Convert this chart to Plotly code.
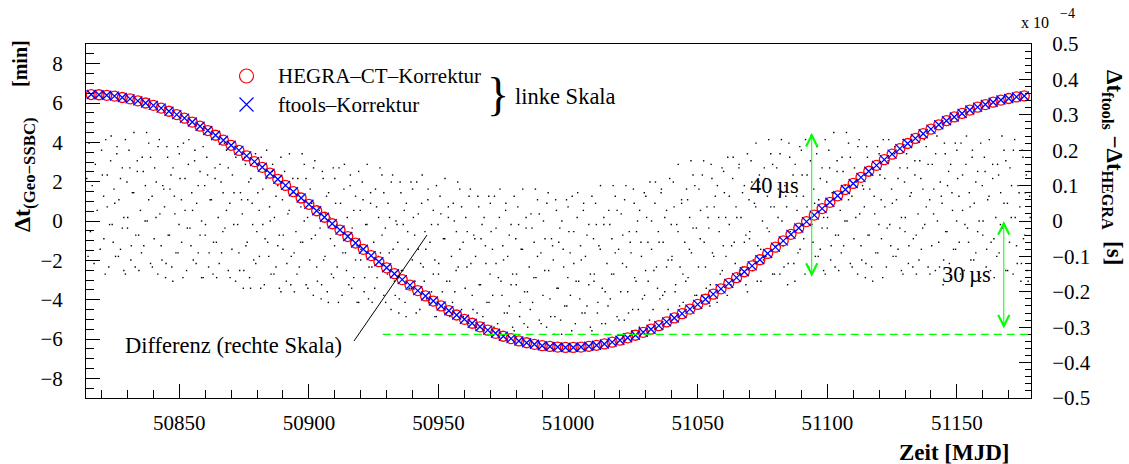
import plotly.graph_objects as go

# ---------------- data ----------------
mjd = [50816, 50819, 50822, 50825, 50828, 50831, 50834, 50837, 50840, 50843,
       50846, 50849, 50852, 50855, 50858, 50861, 50864, 50867, 50870, 50873,
       50876, 50879, 50882, 50885, 50888, 50891, 50894, 50897, 50900, 50903,
       50906, 50909, 50912, 50915, 50918, 50921, 50924, 50927, 50930, 50933,
       50936, 50939, 50942, 50945, 50948, 50951, 50954, 50957, 50960, 50963,
       50966, 50969, 50972, 50975, 50978, 50981, 50984, 50987, 50990, 50993,
       50996, 50999,
       51002, 51005, 51008, 51011, 51014, 51017, 51020, 51023, 51026, 51029,
       51032, 51035, 51038, 51041, 51044, 51047, 51050, 51053, 51056, 51059,
       51062, 51065, 51068, 51071, 51074, 51077, 51080, 51083, 51086, 51089,
       51092, 51095, 51098, 51101, 51104, 51107, 51110, 51113, 51116, 51119,
       51122, 51125, 51128, 51131, 51134, 51137, 51140, 51143, 51146, 51149,
       51152, 51155, 51158, 51161, 51164, 51167, 51170, 51173, 51176]

hegra_min = [6.43, 6.42, 6.39, 6.35, 6.28, 6.21, 6.11, 6.00, 5.88, 5.74,
             5.58, 5.41, 5.23, 5.03, 4.82, 4.60, 4.36, 4.11, 3.85, 3.59,
             3.31, 3.02, 2.73, 2.43, 2.12, 1.81, 1.49, 1.17, 0.85, 0.52,
             0.19, -0.14, -0.46, -0.79, -1.12, -1.44, -1.76, -2.07, -2.38, -2.68,
             -2.98, -3.26, -3.54, -3.81, -4.07, -4.32, -4.56, -4.78, -5.00, -5.20,
             -5.38, -5.55, -5.71, -5.86, -5.98, -6.10, -6.19, -6.27, -6.34, -6.38,
             -6.41, -6.43,
             -6.43, -6.41, -6.37, -6.32, -6.25, -6.16, -6.06, -5.94, -5.81, -5.66,
             -5.50, -5.32, -5.13, -4.93, -4.71, -4.48, -4.24, -3.98, -3.72, -3.45,
             -3.17, -2.88, -2.58, -2.28, -1.97, -1.65, -1.33, -1.01, -0.68, -0.36,
             -0.03, 0.30, 0.63, 0.95, 1.28, 1.60, 1.91, 2.22, 2.53, 2.83,
             3.12, 3.40, 3.68, 3.94, 4.20, 4.44, 4.67, 4.89, 5.10, 5.29,
             5.47, 5.64, 5.79, 5.92, 6.04, 6.15, 6.23, 6.31, 6.36]

# ftools correction is indistinguishable from the HEGRA one at this scale
ftools_min = list(hegra_min)

# difference ftools - HEGRA, in units of 1e-4 s (right scale)
dot_mjd = [
    50814.3, 50814.8,
    50815.2, 50815.7, 50816.4, 50817.1, 50817.6, 50818.3, 50819.5, 50820.0, 50820.8, 50821.4, 50822.2, 50823.1, 50823.7, 50824.5,
    50825.1, 50825.9, 50826.5, 50827.3, 50828.0, 50828.6, 50829.2, 50830.1, 50830.9, 50831.5, 50832.4, 50833.0, 50833.8, 50834.3,
    50835.4, 50836.1, 50836.8, 50837.4, 50838.2, 50838.9, 50839.6, 50840.3, 50841.1, 50841.8, 50842.5, 50843.3, 50844.0, 50844.7,
    50845.2, 50845.7, 50846.4, 50847.1, 50847.6, 50848.3, 50849.5, 50850.0, 50850.8, 50851.4, 50852.2, 50853.1, 50853.7, 50854.5,
    50855.1, 50855.9, 50856.5, 50857.3, 50858.0, 50858.6, 50859.2, 50860.1, 50860.9, 50861.5, 50862.4, 50863.0, 50863.8, 50864.3,
    50865.4, 50866.1, 50866.8, 50867.4, 50868.2, 50868.9, 50869.6, 50870.3, 50871.1, 50871.8, 50872.5, 50873.3, 50874.0, 50874.7,
    50875.2, 50875.7, 50876.4, 50877.1, 50877.6, 50878.3, 50879.5, 50880.0, 50880.8, 50881.4, 50882.2, 50883.1, 50883.7, 50884.5,
    50885.1, 50885.9, 50886.5, 50887.3, 50888.0, 50888.6, 50889.2, 50890.1, 50890.9, 50891.5, 50892.4, 50893.0, 50893.8, 50894.3,
    50895.4, 50896.1, 50896.8, 50897.4, 50898.2, 50898.9, 50899.6, 50900.3, 50901.1, 50901.8, 50902.5, 50903.3, 50904.0, 50904.7,
    50905.2, 50905.7, 50906.4, 50907.1, 50907.6, 50908.3, 50909.5, 50910.0, 50910.8, 50911.4, 50912.2, 50913.1, 50913.7, 50914.5,
    50915.1, 50915.9, 50916.5, 50917.3, 50918.0, 50918.6, 50919.2, 50920.1, 50920.9, 50921.5, 50922.4, 50923.0, 50923.8, 50924.3,
    50925.4, 50926.1, 50926.8, 50927.4, 50928.2, 50928.9, 50929.6, 50930.3, 50931.1, 50931.8, 50932.5, 50933.3, 50934.0, 50934.7,
    50935.2, 50935.7, 50936.4, 50937.1, 50937.6, 50938.3, 50939.5, 50940.0, 50940.8, 50941.4, 50942.2, 50943.1, 50943.7, 50944.5,
    50945.1, 50945.9, 50946.5, 50947.3, 50948.0, 50948.6, 50949.2, 50950.1, 50950.9, 50951.5, 50952.4, 50953.0, 50953.8, 50954.3,
    50955.4, 50956.1, 50956.8, 50957.4, 50958.2, 50958.9, 50959.6, 50960.3, 50961.1, 50961.8, 50962.5, 50963.3, 50964.0, 50964.7,
    50965.2, 50965.7, 50966.4, 50967.1, 50967.6, 50968.3, 50969.5, 50970.0, 50970.8, 50971.4, 50972.2, 50973.1, 50973.7, 50974.5,
    50975.1, 50975.9, 50976.5, 50977.3, 50978.0, 50978.6, 50979.2, 50980.1, 50980.9, 50981.5, 50982.4, 50983.0, 50983.8, 50984.3,
    50985.4, 50986.1, 50986.8, 50987.4, 50988.2, 50988.9, 50989.6, 50990.3, 50991.1, 50991.8, 50992.5, 50993.3, 50994.0, 50994.7,
    50995.2, 50995.7, 50996.4, 50997.1, 50997.6, 50998.3, 50999.5, 51000.0, 51000.8, 51001.4, 51002.2, 51003.1, 51003.7, 51004.5,
    51005.1, 51005.9, 51006.5, 51007.3, 51008.0, 51008.6, 51009.2, 51010.1, 51010.9, 51011.5, 51012.4, 51013.0, 51013.8, 51014.3,
    51015.4, 51016.1, 51016.8, 51017.4, 51018.2, 51018.9, 51019.6, 51020.3, 51021.1, 51021.8, 51022.5, 51023.3, 51024.0, 51024.7,
    51025.2, 51025.7, 51026.4, 51027.1, 51027.6, 51028.3, 51029.5, 51030.0, 51030.8, 51031.4, 51032.2, 51033.1, 51033.7, 51034.5,
    51035.1, 51035.9, 51036.5, 51037.3, 51038.0, 51038.6, 51039.2, 51040.1, 51040.9, 51041.5, 51042.4, 51043.0, 51043.8, 51044.3,
    51045.4, 51046.1, 51046.8, 51047.4, 51048.2, 51048.9, 51049.6, 51050.3, 51051.1, 51051.8, 51052.5, 51053.3, 51054.0, 51054.7,
    51055.2, 51055.7, 51056.4, 51057.1, 51057.6, 51058.3, 51059.5, 51060.0, 51060.8, 51061.4, 51062.2, 51063.1, 51063.7, 51064.5,
    51065.1, 51065.9, 51066.5, 51067.3, 51068.0, 51068.6, 51069.2, 51070.1, 51070.9, 51071.5, 51072.4, 51073.0, 51073.8, 51074.3,
    51075.4, 51076.1, 51076.8, 51077.4, 51078.2, 51078.9, 51079.6, 51080.3, 51081.1, 51081.8, 51082.5, 51083.3, 51084.0, 51084.7,
    51085.2, 51085.7, 51086.4, 51087.1, 51087.6, 51088.3, 51089.5, 51090.0, 51090.8, 51091.4, 51092.2, 51093.1, 51093.7, 51094.5,
    51095.1, 51095.9, 51096.5, 51097.3, 51098.0, 51098.6, 51099.2, 51100.1, 51100.9, 51101.5, 51102.4, 51103.0, 51103.8, 51104.3,
    51105.4, 51106.1, 51106.8, 51107.4, 51108.2, 51108.9, 51109.6, 51110.3, 51111.1, 51111.8, 51112.5, 51113.3, 51114.0, 51114.7,
    51115.2, 51115.7, 51116.4, 51117.1, 51117.6, 51118.3, 51119.5, 51120.0, 51120.8, 51121.4, 51122.2, 51123.1, 51123.7, 51124.5,
    51125.1, 51125.9, 51126.5, 51127.3, 51128.0, 51128.6, 51129.2, 51130.1, 51130.9, 51131.5, 51132.4, 51133.0, 51133.8, 51134.3,
    51135.4, 51136.1, 51136.8, 51137.4, 51138.2, 51138.9, 51139.6, 51140.3, 51141.1, 51141.8, 51142.5, 51143.3, 51144.0, 51144.7,
    51145.2, 51145.7, 51146.4, 51147.1, 51147.6, 51148.3, 51149.5, 51150.0, 51150.8, 51151.4, 51152.2, 51153.1, 51153.7, 51154.5,
    51155.1, 51155.9, 51156.5, 51157.3, 51158.0, 51158.6, 51159.2, 51160.1, 51160.9, 51161.5, 51162.4, 51163.0, 51163.8, 51164.3,
    51165.4, 51166.1, 51166.8, 51167.4, 51168.2, 51168.9, 51169.6, 51170.3, 51171.1, 51171.8, 51172.5, 51173.3, 51174.0, 51174.7,
    51175.2, 51175.7, 51176.4, 51177.1, 51177.6, 51178.3,
    # second sweep of readings
    50820.3, 50820.9, 50821.6, 50822.2, 50822.8, 50823.5, 50824.1, 50824.8, 50825.4, 50826.0, 50826.7, 50827.3, 50828.0, 50828.6, 50829.2, 50829.8,
    50830.0, 50830.6, 50831.3, 50831.9, 50832.5, 50833.2, 50833.8, 50834.4, 50835.0, 50835.7, 50836.3, 50836.9, 50837.6, 50838.2, 50838.9, 50839.5,
    50840.5, 50841.0, 50841.7, 50842.3, 50843.0, 50843.6, 50844.3, 50844.9, 50845.5, 50846.2, 50846.8, 50847.5, 50848.1, 50848.7, 50849.4, 50849.9,
    50850.3, 50850.9, 50851.6, 50852.2, 50852.8, 50853.5, 50854.1, 50854.8, 50855.4, 50856.0, 50856.7, 50857.3, 50858.0, 50858.6, 50859.2, 50859.8,
    50860.0, 50860.6, 50861.3, 50861.9, 50862.5, 50863.2, 50863.8, 50864.4, 50865.0, 50865.7, 50866.3, 50866.9, 50867.6, 50868.2, 50868.9, 50869.5,
    50870.5, 50871.0, 50871.7, 50872.3, 50873.0, 50873.6, 50874.3, 50874.9, 50875.5, 50876.2, 50876.8, 50877.5, 50878.1, 50878.7, 50879.4, 50879.9,
    50880.3, 50880.9, 50881.6, 50882.2, 50882.8, 50883.5, 50884.1, 50884.8, 50885.4, 50886.0, 50886.7, 50887.3, 50888.0, 50888.6, 50889.2, 50889.8,
    50890.0, 50890.6, 50891.3, 50891.9, 50892.5, 50893.2, 50893.8, 50894.4, 50895.0, 50895.7, 50896.3, 50896.9, 50897.6, 50898.2, 50898.9, 50899.5,
    50900.5, 50901.0, 50901.7, 50902.3, 50903.0, 50903.6, 50904.3, 50904.9, 50905.5, 50906.2, 50906.8, 50907.5, 50908.1, 50908.7, 50909.4, 50909.9,
    50910.3, 50910.9, 50911.6, 50912.2, 50912.8, 50913.5, 50914.1, 50914.8, 50915.4, 50916.0, 50916.7, 50917.3, 50918.0, 50918.6, 50919.2, 50919.8,
    50920.0, 50920.6, 50921.3, 50921.9, 50922.5, 50923.2, 50923.8, 50924.4, 50925.0, 50925.7, 50926.3, 50926.9, 50927.6, 50928.2, 50928.9, 50929.5,
    50930.5, 50931.0, 50931.7, 50932.3, 50933.0, 50933.6, 50934.3, 50934.9, 50935.5, 50936.2, 50936.8, 50937.5, 50938.1, 50938.7, 50939.4, 50939.9,
    50940.3, 50940.9, 50941.6, 50942.2, 50942.8, 50943.5, 50944.1, 50944.8, 50945.4, 50946.0, 50946.7, 50947.3, 50948.0, 50948.6, 50949.2, 50949.8,
    50950.0, 50950.6, 50951.3, 50951.9, 50952.5, 50953.2, 50953.8, 50954.4, 50955.0, 50955.7, 50956.3, 50956.9, 50957.6, 50958.2, 50958.9, 50959.5,
    50960.5, 50961.0, 50961.7, 50962.3, 50963.0, 50963.6, 50964.3, 50964.9, 50965.5, 50966.2, 50966.8, 50967.5, 50968.1, 50968.7, 50969.4, 50969.9,
    50970.3, 50970.9, 50971.6, 50972.2, 50972.8, 50973.5, 50974.1, 50974.8, 50975.4, 50976.0, 50976.7, 50977.3, 50978.0, 50978.6, 50979.2, 50979.8,
    50980.0, 50980.6, 50981.3, 50981.9, 50982.5, 50983.2, 50983.8, 50984.4, 50985.0, 50985.7, 50986.3, 50986.9, 50987.6, 50988.2, 50988.9, 50989.5,
    50990.5, 50991.0, 50991.7, 50992.3, 50993.0, 50993.6, 50994.3, 50994.9, 50995.5, 50996.2, 50996.8, 50997.5, 50998.1, 50998.7, 50999.4, 50999.9,
    51000.3, 51000.9, 51001.6, 51002.2, 51002.8, 51003.5, 51004.1, 51004.8, 51005.4, 51006.0, 51006.7, 51007.3, 51008.0, 51008.6, 51009.2, 51009.8,
    51010.0, 51010.6, 51011.3, 51011.9, 51012.5, 51013.2, 51013.8, 51014.4, 51015.0, 51015.7, 51016.3, 51016.9, 51017.6, 51018.2, 51018.9, 51019.5,
    51020.5, 51021.0, 51021.7, 51022.3, 51023.0, 51023.6, 51024.3, 51024.9, 51025.5, 51026.2, 51026.8, 51027.5, 51028.1, 51028.7, 51029.4, 51029.9,
    51030.3, 51030.9, 51031.6, 51032.2, 51032.8, 51033.5, 51034.1, 51034.8, 51035.4, 51036.0, 51036.7, 51037.3, 51038.0, 51038.6, 51039.2, 51039.8,
    51040.0, 51040.6, 51041.3, 51041.9, 51042.5, 51043.2, 51043.8, 51044.4, 51045.0, 51045.7, 51046.3, 51046.9, 51047.6, 51048.2, 51048.9, 51049.5,
    51050.5, 51051.0, 51051.7, 51052.3, 51053.0, 51053.6, 51054.3, 51054.9, 51055.5, 51056.2, 51056.8, 51057.5, 51058.1, 51058.7, 51059.4, 51059.9,
    51060.3, 51060.9, 51061.6, 51062.2, 51062.8, 51063.5, 51064.1, 51064.8, 51065.4, 51066.0, 51066.7, 51067.3, 51068.0, 51068.6, 51069.2, 51069.8,
    51070.0, 51070.6, 51071.3, 51071.9, 51072.5, 51073.2, 51073.8, 51074.4, 51075.0, 51075.7, 51076.3, 51076.9, 51077.6, 51078.2, 51078.9, 51079.5,
    51080.5, 51081.0, 51081.7, 51082.3, 51083.0, 51083.6, 51084.3, 51084.9, 51085.5, 51086.2, 51086.8, 51087.5, 51088.1, 51088.7, 51089.4, 51089.9,
    51090.3, 51090.9, 51091.6, 51092.2, 51092.8, 51093.5, 51094.1, 51094.8, 51095.4, 51096.0, 51096.7, 51097.3, 51098.0, 51098.6, 51099.2, 51099.8,
    51100.0, 51100.6, 51101.3, 51101.9, 51102.5, 51103.2, 51103.8, 51104.4, 51105.0, 51105.7, 51106.3, 51106.9, 51107.6, 51108.2, 51108.9, 51109.5,
    51110.5, 51111.0, 51111.7, 51112.3, 51113.0, 51113.6, 51114.3, 51114.9, 51115.5, 51116.2, 51116.8, 51117.5, 51118.1, 51118.7, 51119.4, 51119.9,
    51120.3, 51120.9, 51121.6, 51122.2, 51122.8, 51123.5, 51124.1, 51124.8, 51125.4, 51126.0, 51126.7, 51127.3, 51128.0, 51128.6, 51129.2, 51129.8,
    51130.0, 51130.6, 51131.3, 51131.9, 51132.5, 51133.2, 51133.8, 51134.4, 51135.0, 51135.7, 51136.3, 51136.9, 51137.6, 51138.2, 51138.9, 51139.5,
    51140.5, 51141.0, 51141.7, 51142.3, 51143.0, 51143.6, 51144.3, 51144.9, 51145.5, 51146.2, 51146.8, 51147.5, 51148.1, 51148.7, 51149.4, 51149.9,
    51150.3, 51150.9, 51151.6, 51152.2, 51152.8, 51153.5, 51154.1, 51154.8, 51155.4, 51156.0, 51156.7, 51157.3, 51158.0, 51158.6, 51159.2, 51159.8,
    51160.0, 51160.6, 51161.3, 51161.9, 51162.5, 51163.2, 51163.8, 51164.4, 51165.0, 51165.7, 51166.3, 51166.9, 51167.6, 51168.2, 51168.9, 51169.5,
    51170.5, 51171.0, 51171.7, 51172.3, 51173.0, 51173.6, 51174.3, 51174.9, 51175.5, 51176.2, 51176.8, 51177.5, 51178.1,
]
dot_diff = [
    0.12, -0.10,
    0.22, -0.03, 0.10, -0.12, 0.16, 0.03, -0.08, 0.20, 0.07, -0.15, 0.13, -0.01, 0.24, -0.06,
    0.05, 0.19, -0.10, 0.12, -0.02, -0.14, 0.23, 0.01, 0.15, -0.07, 0.08, -0.13, 0.17, -0.04,
    -0.09, 0.14, 0.00, 0.25, 0.06, 0.18, -0.13, -0.05, 0.11, 0.21, 0.02, -0.11, 0.09, -0.16,
    0.21, -0.04, 0.09, -0.13, 0.15, 0.02, -0.09, 0.19, 0.06, -0.16, 0.12, -0.02, 0.23, -0.07,
    0.03, 0.17, -0.12, 0.10, -0.04, -0.16, 0.21, -0.01, 0.13, -0.09, 0.06, -0.15, 0.15, -0.06,
    -0.12, 0.11, -0.03, 0.22, 0.03, 0.15, -0.16, -0.08, 0.08, 0.18, -0.01, -0.14, 0.06, -0.19,
    0.18, -0.07, 0.06, -0.16, 0.12, -0.01, -0.12, 0.16, 0.03, -0.19, 0.09, -0.05, 0.20, -0.10,
    0.00, 0.14, -0.15, 0.07, -0.07, -0.19, 0.18, -0.04, 0.10, -0.12, 0.03, -0.18, 0.12, -0.09,
    -0.15, 0.08, -0.06, 0.19, 0.00, 0.12, -0.19, -0.11, 0.05, 0.15, -0.04, -0.17, 0.03, -0.22,
    0.14, -0.11, 0.02, -0.20, 0.08, -0.05, -0.16, 0.12, -0.01, -0.23, 0.05, -0.09, 0.16, -0.14,
    -0.04, 0.10, -0.19, 0.03, -0.11, -0.23, 0.14, -0.08, 0.06, -0.16, -0.01, -0.22, 0.08, -0.13,
    -0.19, 0.04, -0.10, 0.15, -0.04, 0.08, -0.23, -0.15, 0.01, 0.11, -0.08, -0.21, -0.01, -0.26,
    0.11, -0.14, -0.01, -0.23, 0.05, -0.08, -0.19, 0.09, -0.04, -0.26, 0.02, -0.12, 0.13, -0.17,
    -0.08, 0.06, -0.23, -0.01, -0.15, -0.27, 0.10, -0.12, 0.02, -0.20, -0.05, -0.26, 0.04, -0.17,
    -0.23, 0.00, -0.14, 0.11, -0.08, 0.04, -0.27, -0.19, -0.03, 0.07, -0.12, -0.25, -0.05, -0.30,
    0.07, -0.18, -0.05, -0.27, 0.01, -0.12, -0.23, 0.05, -0.08, -0.30, -0.02, -0.16, 0.09, -0.21,
    -0.11, 0.03, -0.26, -0.04, -0.18, -0.30, 0.07, -0.15, -0.01, -0.23, -0.08, -0.29, 0.01, -0.20,
    -0.25, -0.02, -0.16, 0.09, -0.10, 0.02, -0.29, -0.21, -0.05, 0.05, -0.14, -0.27, -0.07, -0.32,
    0.06, -0.19, -0.06, -0.28, 0.00, -0.13, -0.24, 0.04, -0.09, -0.31, -0.03, -0.17, 0.08, -0.22,
    -0.11, 0.03, -0.26, -0.04, -0.18, -0.30, 0.07, -0.15, -0.01, -0.23, -0.08, -0.29, 0.01, -0.20,
    -0.24, -0.01, -0.15, 0.10, -0.09, 0.03, -0.28, -0.20, -0.04, 0.06, -0.13, -0.26, -0.06, -0.31,
    0.09, -0.16, -0.03, -0.25, 0.03, -0.10, -0.21, 0.07, -0.06, -0.28, 0.00, -0.14, 0.11, -0.19,
    -0.06, 0.08, -0.21, 0.01, -0.13, -0.25, 0.12, -0.10, 0.04, -0.18, -0.03, -0.24, 0.06, -0.15,
    -0.17, 0.06, -0.08, 0.17, -0.02, 0.10, -0.21, -0.13, 0.03, 0.13, -0.06, -0.19, 0.01, -0.24,
    0.16, -0.09, 0.04, -0.18, 0.10, -0.03, -0.14, 0.14, 0.01, -0.21, 0.07, -0.07, 0.18, -0.12,
    0.01, 0.15, -0.14, 0.08, -0.06, -0.18, 0.19, -0.03, 0.11, -0.11, 0.04, -0.17, 0.13, -0.08,
    -0.11, 0.12, -0.02, 0.23, 0.04, 0.16, -0.15, -0.07, 0.09, 0.19, 0.00, -0.13, 0.07, -0.18,
    0.22, -0.03, 0.10, -0.12, 0.16, 0.03, -0.08, 0.20, 0.07, -0.15, 0.13, -0.01, 0.24, -0.06,
    0.05, 0.19, -0.10, 0.12, -0.02, -0.14, 0.23, 0.01, 0.15, -0.07, 0.08, -0.13, 0.17, -0.04,
    -0.09, 0.14, 0.00, 0.25, 0.06, 0.18, -0.13, -0.05, 0.11, 0.21, 0.02, -0.11, 0.09, -0.16,
    0.21, -0.04, 0.09, -0.13, 0.15, 0.02, -0.09, 0.19, 0.06, -0.16, 0.12, -0.02, 0.23, -0.07,
    0.05, 0.19, -0.10, 0.12, -0.02, -0.14, 0.23, 0.01, 0.15, -0.07, 0.08, -0.13, 0.17, -0.04,
    -0.11, 0.12, -0.02, 0.23, 0.04, 0.16, -0.15, -0.07, 0.09, 0.19, 0.00, -0.13, 0.07, -0.18,
    0.22, -0.03, 0.10, -0.12, 0.16, 0.03, -0.08, 0.20, 0.07, -0.15, 0.13, -0.01, 0.24, -0.06,
    0.04, 0.18, -0.11, 0.11, -0.03, -0.15, 0.22, 0.00, 0.14, -0.08, 0.07, -0.14, 0.16, -0.05,
    -0.10, 0.13, -0.01, 0.24, 0.05, 0.17, -0.14, -0.06, 0.10, 0.20, 0.01, -0.12, 0.08, -0.17,
    0.20, -0.05, 0.08, -0.14, 0.14, 0.01,
    # second sweep of readings
    0.13, -0.05, 0.23, 0.04, -0.13, 0.17, -0.01, 0.09, -0.10, 0.21, 0.06, -0.08, 0.15, 0.01, -0.15, 0.11,
    -0.02, 0.20, -0.11, 0.08, 0.25, -0.04, 0.14, -0.14, 0.03, 0.18, -0.07, 0.10, 0.00, 0.22, -0.12, 0.07,
    0.15, 0.01, -0.15, 0.23, -0.07, 0.10, 0.04, -0.12, 0.18, -0.04, 0.13, -0.17, 0.07, -0.09, 0.21, -0.01,
    0.12, -0.06, 0.22, 0.03, -0.14, 0.16, -0.02, 0.08, -0.11, 0.20, 0.05, -0.09, 0.14, 0.00, -0.16, 0.10,
    -0.04, 0.18, -0.13, 0.06, 0.23, -0.06, 0.12, -0.16, 0.01, 0.16, -0.09, 0.08, -0.02, 0.20, -0.14, 0.05,
    0.13, -0.01, -0.17, 0.21, -0.09, 0.08, 0.02, -0.14, 0.16, -0.06, 0.11, -0.19, 0.05, -0.11, 0.19, -0.03,
    0.08, -0.10, 0.18, -0.01, -0.18, 0.12, -0.06, 0.04, -0.15, 0.16, 0.01, -0.13, 0.10, -0.04, -0.20, 0.06,
    -0.08, 0.14, -0.17, 0.02, 0.19, -0.10, 0.08, -0.20, -0.03, 0.12, -0.13, 0.04, -0.06, 0.16, -0.18, 0.01,
    0.09, -0.05, -0.21, 0.17, -0.13, 0.04, -0.02, -0.18, 0.12, -0.10, 0.07, -0.23, 0.01, -0.15, 0.15, -0.07,
    0.05, -0.13, 0.15, -0.04, -0.21, 0.09, -0.09, 0.01, -0.18, 0.13, -0.02, -0.16, 0.07, -0.07, -0.23, 0.03,
    -0.11, 0.11, -0.20, -0.01, 0.16, -0.13, 0.05, -0.23, -0.06, 0.09, -0.16, 0.01, -0.09, 0.13, -0.21, -0.02,
    0.05, -0.09, -0.25, 0.13, -0.17, 0.00, -0.06, -0.22, 0.08, -0.14, 0.03, -0.27, -0.03, -0.19, 0.11, -0.11,
    0.01, -0.17, 0.11, -0.08, -0.25, 0.05, -0.13, -0.03, -0.22, 0.09, -0.06, -0.20, 0.03, -0.11, -0.27, -0.01,
    -0.15, 0.07, -0.24, -0.05, 0.12, -0.17, 0.01, -0.27, -0.10, 0.05, -0.20, -0.03, -0.13, 0.09, -0.25, -0.06,
    0.01, -0.13, -0.29, 0.09, -0.21, -0.04, -0.10, -0.26, 0.04, -0.18, -0.01, -0.31, -0.07, -0.23, 0.07, -0.15,
    -0.03, -0.21, 0.07, -0.12, -0.29, 0.01, -0.17, -0.07, -0.26, 0.05, -0.10, -0.24, -0.01, -0.15, -0.31, -0.05,
    -0.18, 0.04, -0.27, -0.08, 0.09, -0.20, -0.02, -0.30, -0.13, 0.02, -0.23, -0.06, -0.16, 0.06, -0.28, -0.09,
    0.00, -0.14, -0.30, 0.08, -0.22, -0.05, -0.11, -0.27, 0.03, -0.19, -0.02, -0.32, -0.08, -0.24, 0.06, -0.16,
    -0.03, -0.21, 0.07, -0.12, -0.29, 0.01, -0.17, -0.07, -0.26, 0.05, -0.10, -0.24, -0.01, -0.15, -0.31, -0.05,
    -0.17, 0.05, -0.26, -0.07, 0.10, -0.19, -0.01, -0.29, -0.12, 0.03, -0.22, -0.05, -0.15, 0.07, -0.27, -0.08,
    0.02, -0.12, -0.28, 0.10, -0.20, -0.03, -0.09, -0.25, 0.05, -0.17, 0.00, -0.30, -0.06, -0.22, 0.08, -0.14,
    0.01, -0.17, 0.11, -0.08, -0.25, 0.05, -0.13, -0.03, -0.22, 0.09, -0.06, -0.20, 0.03, -0.11, -0.27, -0.01,
    -0.11, 0.11, -0.20, -0.01, 0.16, -0.13, 0.05, -0.23, -0.06, 0.09, -0.16, 0.01, -0.09, 0.13, -0.21, -0.02,
    0.09, -0.05, -0.21, 0.17, -0.13, 0.04, -0.02, -0.18, 0.12, -0.10, 0.07, -0.23, 0.01, -0.15, 0.15, -0.07,
    0.08, -0.10, 0.18, -0.01, -0.18, 0.12, -0.06, 0.04, -0.15, 0.16, 0.01, -0.13, 0.10, -0.04, -0.20, 0.06,
    -0.05, 0.17, -0.14, 0.05, 0.22, -0.07, 0.11, -0.17, 0.00, 0.15, -0.10, 0.07, -0.03, 0.19, -0.15, 0.04,
    0.15, 0.01, -0.15, 0.23, -0.07, 0.10, 0.04, -0.12, 0.18, -0.04, 0.13, -0.17, 0.07, -0.09, 0.21, -0.01,
    0.13, -0.05, 0.23, 0.04, -0.13, 0.17, -0.01, 0.09, -0.10, 0.21, 0.06, -0.08, 0.15, 0.01, -0.15, 0.11,
    -0.02, 0.20, -0.11, 0.08, 0.25, -0.04, 0.14, -0.14, 0.03, 0.18, -0.07, 0.10, 0.00, 0.22, -0.12, 0.07,
    0.15, 0.01, -0.15, 0.23, -0.07, 0.10, 0.04, -0.12, 0.18, -0.04, 0.13, -0.17, 0.07, -0.09, 0.21, -0.01,
    0.13, -0.05, 0.23, 0.04, -0.13, 0.17, -0.01, 0.09, -0.10, 0.21, 0.06, -0.08, 0.15, 0.01, -0.15, 0.11,
    -0.03, 0.19, -0.12, 0.07, 0.24, -0.05, 0.13, -0.15, 0.02, 0.17, -0.08, 0.09, -0.01, 0.21, -0.13, 0.06,
    0.16, 0.02, -0.14, 0.24, -0.06, 0.11, 0.05, -0.11, 0.19, -0.03, 0.14, -0.16, 0.08, -0.08, 0.22, 0.00,
    0.12, -0.06, 0.22, 0.03, -0.14, 0.16, -0.02, 0.08, -0.11, 0.20, 0.05, -0.09, 0.14, 0.00, -0.16, 0.10,
    -0.04, 0.18, -0.13, 0.06, 0.23, -0.06, 0.12, -0.16, 0.01, 0.16, -0.09, 0.08, -0.02, 0.20, -0.14, 0.05,
    0.15, 0.01, -0.15, 0.23, -0.07, 0.10, 0.04, -0.12, 0.18, -0.04, 0.13, -0.17, 0.07,
]

x_tick_vals = [50850, 50900, 50950, 51000, 51050, 51100, 51150]
x_tick_text = ["50850", "50900", "50950", "51000", "51050", "51100", "51150"]
y_tick_vals = [-8, -6, -4, -2, 0, 2, 4, 6, 8]
y_tick_text = ["\u22128", "\u22126", "\u22124", "\u22122", "0", "2", "4", "6", "8"]
y2_tick_vals = [0.5, 0.4, 0.3, 0.2, 0.1, 0.0, -0.1, -0.2, -0.3, -0.4, -0.5]
y2_tick_text = ["0.5", "0.4", "0.3", "0.2", "0.1", "0", "\u22120.1", "\u22120.2",
                "\u22120.3", "\u22120.4", "\u22120.5"]

# ---------------- layout helpers ----------------
FONT = "Liberation Serif, Times New Roman, Times, serif"
W, H = 1129, 464
L, R, T, B = 86, 1031, 44, 398


def px(x):
    return (x - L) / (R - L)


def py(y):
    return (B - y) / (B - T)


fig = go.Figure()

fig.add_trace(go.Scatter(
    x=dot_mjd, y=dot_diff, yaxis="y2", mode="markers",
    marker=dict(symbol="square", size=1.4, color="black", line=dict(width=0)),
    showlegend=False, hoverinfo="skip"))

fig.add_trace(go.Scatter(
    x=mjd, y=hegra_min, yaxis="y", mode="markers", name="HEGRA\u2013CT\u2013Korrektur",
    marker=dict(symbol="circle-open", size=10, color="red", line=dict(width=1.3, color="red")),
    showlegend=False))

fig.add_trace(go.Scatter(
    x=mjd, y=ftools_min, yaxis="y", mode="markers", name="ftools\u2013Korrektur",
    marker=dict(symbol="x-thin-open", size=9, color="blue", line=dict(width=1.3, color="blue")),
    showlegend=False))

tickfont = dict(family=FONT, size=21, color="black")


def ann(text, x, y, size=22, xanchor="center", yanchor="middle", angle=0):
    return dict(text=text, x=px(x), y=py(y), xref="paper", yref="paper", showarrow=False,
                font=dict(family=FONT, size=size, color="black"),
                xanchor=xanchor, yanchor=yanchor, textangle=angle)


annotations = [
    ann("HEGRA\u2013CT\u2013Korrektur", 276, 76, 21, xanchor="left"),
    ann("ftools\u2013Korrektur", 276, 105, 21, xanchor="left"),
    ann("}", 498, 94, 46),
    ann("linke Skala", 513, 96, 22.5, xanchor="left"),
    ann("Differenz (rechte Skala)", 123, 345, 22.5, xanchor="left"),
    ann("40\u2009\u00b5s", 774, 185, 22.5),
    ann("30\u2009\u00b5s", 966, 274, 22.5),
    ann("<b>Zeit [MJD]</b>", 1012, 452, 23, xanchor="right"),
    ann("<b>\u0394t<sub>(Geo\u2212SSBC)</sub></b>", 24, 175, 24, angle=-90),
    ann("<b>[min]</b>", 20, 64, 20, angle=-90),
    ann("<b>\u0394t<sub>ftools</sub> \u2212\u0394t<sub>HEGRA</sub>\u00a0\u00a0[s]</b>", 1113, 167, 23, angle=90),
    ann("x 10", 1035, 23, 16),
    ann("\u22124", 1067, 13, 14),
]

# green double arrows (data coordinates on the right scale)
for xa, ytop, ybot in [(51094.0, 0.249, -0.162), (51168.1, 0.0, -0.308)]:
    annotations.append(dict(
        x=xa, y=ytop, ax=xa, ay=ybot, xref="x", yref="y2", axref="x", ayref="y2",
        text="", showarrow=True, arrowhead=5, startarrowhead=5, arrowside="end+start",
        arrowsize=2.2, startarrowsize=2.2, arrowwidth=1, arrowcolor="#00ff00",
        standoff=0, startstandoff=0))

shapes = [
    # dashed green reference line
    dict(type="line", xref="x", yref="y2", x0=50928.5, x1=51178.6, y0=-0.32, y1=-0.32,
         line=dict(color="#00ff00", width=1.2, dash="8px,5px")),
    # pointer line for "Differenz"
    dict(type="line", xref="paper", yref="paper", x0=px(354), y0=py(341), x1=px(427), y1=py(235),
         line=dict(color="black", width=1)),
    # legend symbols
    dict(type="circle", xref="paper", yref="paper", x0=px(239.5), x1=px(253.5), y0=py(69), y1=py(83),
         line=dict(color="red", width=1.2)),
    dict(type="path", xref="paper", yref="paper",
         path=f"M {px(239.5)} {py(97.5)} L {px(253.5)} {py(111.5)} M {px(239.5)} {py(111.5)} L {px(253.5)} {py(97.5)}",
         line=dict(color="blue", width=1.2)),
]

fig.update_layout(
    width=W, height=H,
    margin=dict(l=L, r=W - R, t=T, b=H - B),
    paper_bgcolor="white", plot_bgcolor="white",
    showlegend=False,
    font=dict(family=FONT, color="black"),
    xaxis=dict(range=[50814, 51178.6], tickvals=x_tick_vals, ticktext=x_tick_text,
               ticks="inside", ticklen=14,
               tickcolor="black", tickwidth=1, showline=True, linecolor="black", linewidth=1,
               mirror=True, showgrid=False, zeroline=False, tickfont=tickfont,
               ticklabelstandoff=6,
               minor=dict(tick0=50850, dtick=10, ticks="inside", ticklen=8, tickcolor="black",
                          showgrid=False)),
    yaxis=dict(range=[-9, 9], tickvals=y_tick_vals, ticktext=y_tick_text, ticks="inside",
               ticklen=14, tickcolor="black",
               showline=True, linecolor="black", linewidth=1, showgrid=False, zeroline=False,
               tickfont=tickfont, overlaying="y2", side="left", ticklabelstandoff=18,
               minor=dict(tick0=0, dtick=0.5, ticks="inside", ticklen=8, tickcolor="black",
                          showgrid=False)),
    yaxis2=dict(range=[-0.5, 0.5], tickvals=y2_tick_vals, ticktext=y2_tick_text, ticks="inside",
                ticklen=12, tickcolor="black", showline=True, linecolor="black", linewidth=1,
                showgrid=False, zeroline=False, tickfont=tickfont, side="right", anchor="x",
                ticklabelstandoff=16,
                minor=dict(tick0=0, dtick=0.02, ticks="inside", ticklen=6, tickcolor="black",
                           showgrid=False)),
    annotations=annotations,
    shapes=shapes,
)

fig.write_html("out.html")
